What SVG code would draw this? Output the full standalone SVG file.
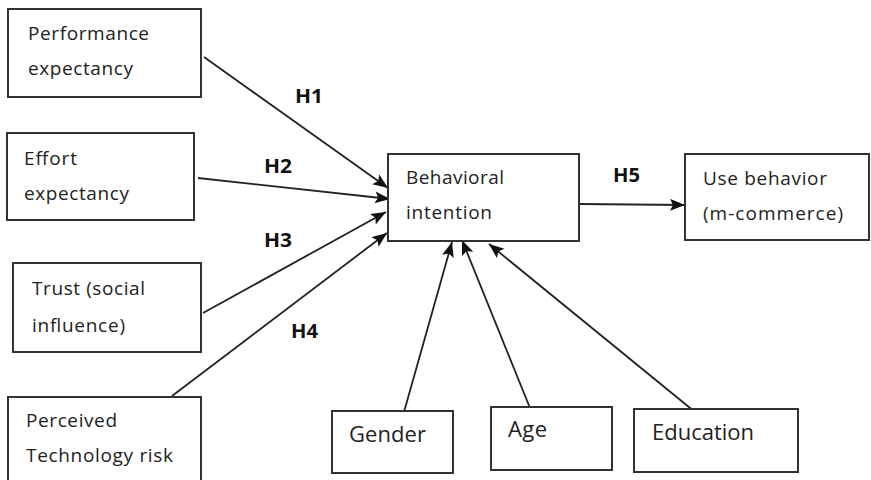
<svg xmlns="http://www.w3.org/2000/svg" width="871" height="480" viewBox="0 0 871 480">
  <style>
    .box { fill: #ffffff; stroke: #333333; stroke-width: 2; }
    .lbl { font-family: "Open Sans", "Noto Sans", sans-serif; font-size: 19px; fill: #222222; }
    .big { font-family: "Open Sans", "Noto Sans", sans-serif; font-size: 22px; fill: #222222; }
    .hyp { font-family: "Open Sans", "Noto Sans", sans-serif; font-size: 19px; font-weight: bold; fill: #111111; }
    .link { stroke: #222222; stroke-width: 1.8; fill: none; marker-end: url(#arrow); }
  </style>
  <defs>
    <marker id="arrow" markerUnits="userSpaceOnUse" markerWidth="16" markerHeight="14" viewBox="0 0 16 14" refX="15" refY="6" orient="auto">
      <path d="M0,0 L15,6 L0,12 L3,6 z" fill="#111111"/>
    </marker>
  </defs>
  <rect width="871" height="480" fill="#ffffff"/>

  <!-- connectors -->
  <g id="connectors">
    <line class="link" x1="204" y1="57" x2="388" y2="188"/>
    <line class="link" x1="198" y1="178" x2="390" y2="199"/>
    <line class="link" x1="203" y1="313" x2="386" y2="212"/>
    <line class="link" x1="172" y1="396" x2="387" y2="233"/>
    <line class="link" x1="579" y1="204" x2="685" y2="205"/>
    <line class="link" x1="404" y1="412" x2="452" y2="242"/>
    <line class="link" x1="530" y1="408" x2="462" y2="240"/>
    <line class="link" x1="695" y1="412" x2="489" y2="244"/>
    <text class="hyp" x="295" y="103" textLength="28" lengthAdjust="spacingAndGlyphs">H1</text>
    <text class="hyp" x="264" y="173" textLength="28" lengthAdjust="spacingAndGlyphs">H2</text>
    <text class="hyp" x="264" y="247" textLength="28" lengthAdjust="spacingAndGlyphs">H3</text>
    <text class="hyp" x="291" y="338" textLength="27" lengthAdjust="spacingAndGlyphs">H4</text>
    <text class="hyp" x="613" y="182" textLength="27" lengthAdjust="spacingAndGlyphs">H5</text>
  </g>

  <g id="performance-expectancy">
    <rect class="box" x="8" y="9" width="193" height="88"/>
    <text class="lbl" x="28" y="40" textLength="121" lengthAdjust="spacing">Performance</text>
    <text class="lbl" x="28" y="75" textLength="105" lengthAdjust="spacing">expectancy</text>
  </g>

  <g id="effort-expectancy">
    <rect class="box" x="7" y="133" width="187" height="87"/>
    <text class="lbl" x="24" y="165" textLength="53" lengthAdjust="spacing">Effort</text>
    <text class="lbl" x="24" y="200" textLength="105" lengthAdjust="spacing">expectancy</text>
  </g>

  <g id="trust">
    <rect class="box" x="13" y="263" width="188" height="89"/>
    <text class="lbl" x="32" y="295" textLength="113" lengthAdjust="spacing">Trust (social</text>
    <text class="lbl" x="32" y="332" textLength="93" lengthAdjust="spacing">influence)</text>
  </g>

  <g id="perceived-risk">
    <rect class="box" x="8" y="397" width="193" height="100"/>
    <text class="lbl" x="26" y="427" textLength="91" lengthAdjust="spacing">Perceived</text>
    <text class="lbl" x="26" y="462" textLength="147" lengthAdjust="spacing">Technology risk</text>
  </g>

  <g id="behavioral-intention">
    <rect class="box" x="388" y="154" width="191" height="87"/>
    <text class="lbl" x="406" y="184" textLength="98" lengthAdjust="spacing">Behavioral</text>
    <text class="lbl" x="406" y="219" textLength="86" lengthAdjust="spacing">intention</text>
  </g>

  <g id="use-behavior">
    <rect class="box" x="685" y="154" width="184" height="86"/>
    <text class="lbl" x="703" y="185" textLength="124" lengthAdjust="spacing">Use behavior</text>
    <text class="lbl" x="703" y="220" textLength="140" lengthAdjust="spacing">(m-commerce)</text>
  </g>

  <g id="gender">
    <rect class="box" x="332" y="411" width="121" height="62"/>
    <text class="big" x="349" y="442" textLength="77" lengthAdjust="spacing">Gender</text>
  </g>

  <g id="age">
    <rect class="box" x="491" y="407" width="121" height="63"/>
    <text class="big" x="508" y="437" textLength="39" lengthAdjust="spacing">Age</text>
  </g>

  <g id="education">
    <rect class="box" x="634" y="409" width="164" height="63"/>
    <text class="big" x="652" y="440" textLength="102" lengthAdjust="spacing">Education</text>
  </g>
</svg>
